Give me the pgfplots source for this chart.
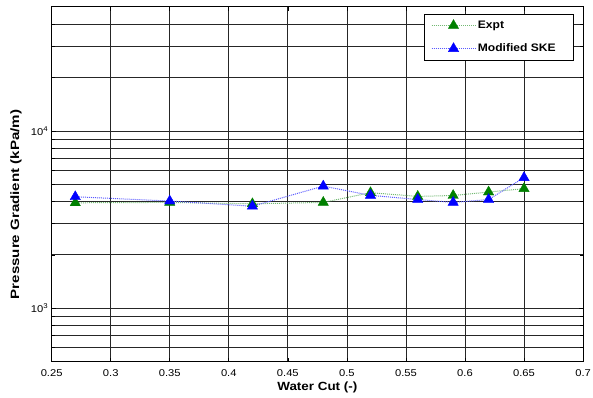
\documentclass[border=0pt]{standalone}
\usepackage{pgfplots}
\pgfplotsset{compat=1.18}
\usepackage{fontspec}
\setmainfont{Liberation Sans}
% the reference text is a little wider than plain Arial
\newfontfamily\tickfont[FakeStretch=1.13]{Liberation Sans}
\newfontfamily\ylabfont[FakeStretch=1.25]{Liberation Sans}
\newfontfamily\legfont[FakeStretch=1.11]{Liberation Sans}
\definecolor{exptgreen}{rgb}{0,0.5,0}
\begin{document}
\begin{tikzpicture}[x=1bp,y=1bp]
\begin{axis}[
    name=ax,
    scale only axis,
    width=535bp, height=357bp,
    ymode=log,
    xmin=0.25, xmax=0.7,
    ymin=500, ymax=50000,
    xtick={0.25,0.3,...,0.71},
    xticklabels={0.25,0.3,0.35,0.4,0.45,0.5,0.55,0.6,0.65,0.7},
    ytick={1000,10000},
    yticklabels={10\textsuperscript{3},10\textsuperscript{4}},
    minor ytick={600,700,800,900,2000,3000,4000,5000,6000,7000,8000,9000,20000,30000,40000},
    grid=both,
    major grid style={black!85, line width=0.7pt},
    minor grid style={black!85, line width=0.7pt},
    tick align=inside,
    major tick length=4bp,
    minor tick length=3bp,
    tick style={black, line width=0.6pt},
    axis line style={black, line width=0.9pt},
    ticklabel style={font=\tickfont\fontsize{10}{11}\selectfont},
    xticklabel style={anchor=center, yshift=-11.5bp},
    xlabel={Water Cut (-)},
    ylabel={Pressure Gradient (kPa/m)},
    xlabel style={at={(axis description cs:0.5,0)}, anchor=center, yshift=-26bp,
        font=\tickfont\bfseries\fontsize{12}{14}\selectfont},
    ylabel style={at={(axis description cs:0,0.443)}, anchor=center, yshift=36bp,
        font=\ylabfont\bfseries\fontsize{12.2}{14}\selectfont},
    legend style={at={(0.983,0.981)}, anchor=north east, draw=black, line width=0.9pt,
        font=\legfont\bfseries\fontsize{11}{13}\selectfont, row sep=10bp,
        inner xsep=7bp, inner ysep=5bp, cells={anchor=west}},
    legend cell align=left,
    legend image code/.code={
        \draw[mark repeat=2,mark phase=2,#1] plot coordinates {(0bp,0bp) (22bp,0bp) (44bp,0bp)};
    },
]
\addplot[exptgreen!55, densely dotted, line width=1pt,
    mark=triangle*, mark size=6bp, mark options={solid, fill=exptgreen, draw=exptgreen, line width=0.4pt}]
coordinates {
    (0.27,3930) (0.35,3950) (0.42,3880) (0.48,3950) (0.52,4480)
    (0.56,4270) (0.59,4320) (0.62,4520) (0.65,4720)
};
\addplot[blue!65, densely dotted, line width=1pt,
    mark=triangle*, mark size=6bp, mark options={solid, fill=blue, draw=blue, line width=0.4pt}]
coordinates {
    (0.27,4250) (0.35,4020) (0.42,3760) (0.48,4880) (0.52,4330)
    (0.56,4100) (0.59,3950) (0.62,4100) (0.65,5450)
};
\legend{Expt, Modified SKE\hspace*{9bp}}
\end{axis}
\pgfresetboundingbox
\path (ax.south west) +(-52bp,-36bp) (ax.north east) +(10bp,7bp);
\end{tikzpicture}
\end{document}
